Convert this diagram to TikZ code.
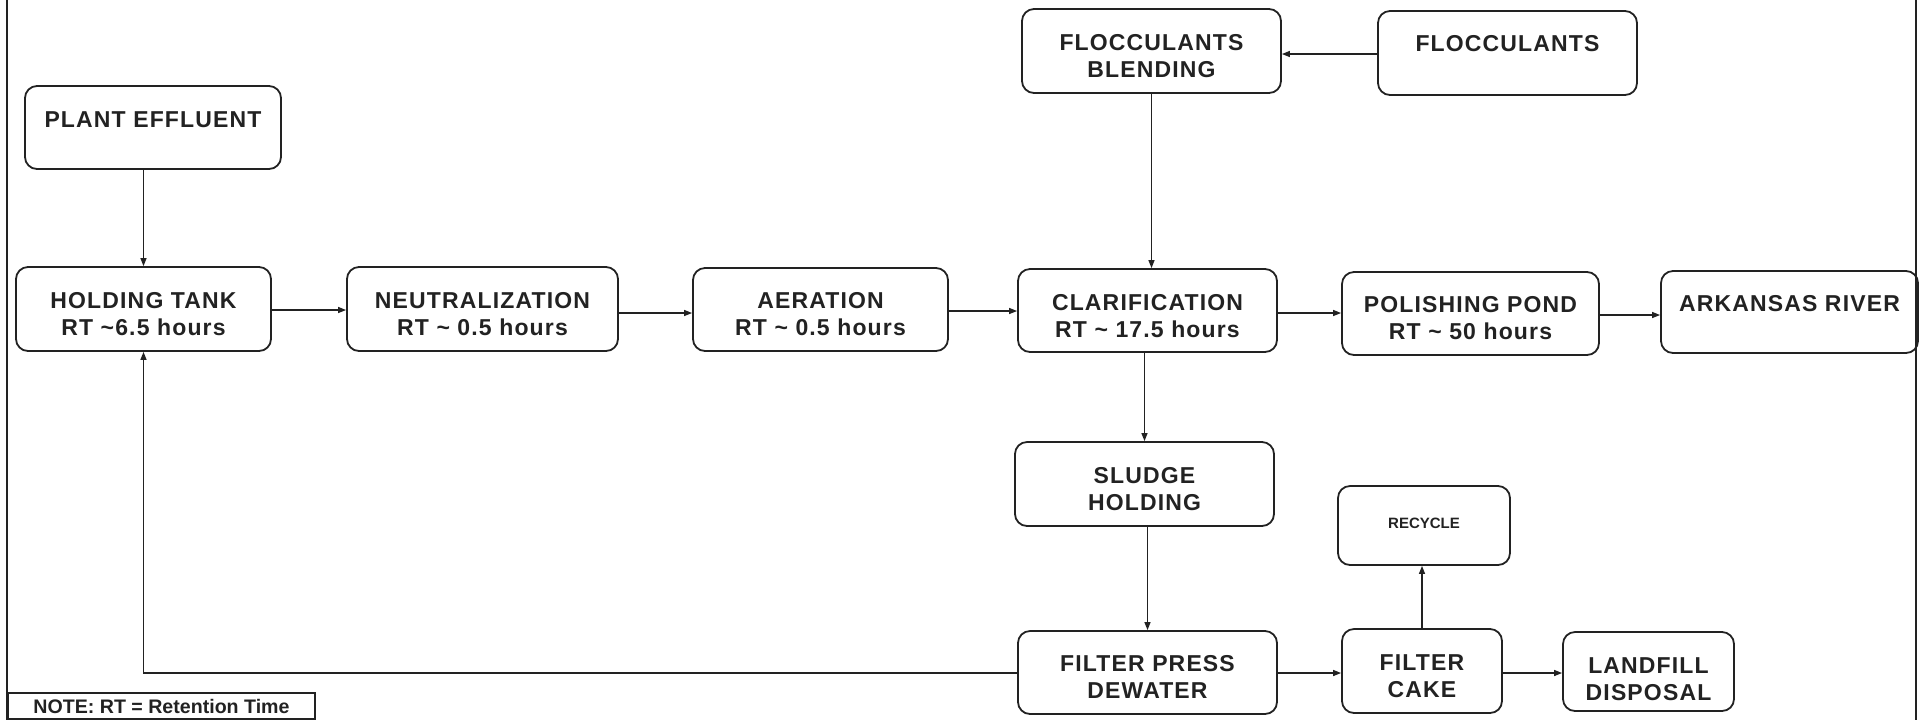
\documentclass[tikz,border=0pt]{standalone}
\usepackage{fontspec}
\setmainfont{Liberation Sans}
\usetikzlibrary{arrows.meta}
\definecolor{ink}{HTML}{222222}
\begin{document}
\begin{tikzpicture}[x=0.5pt,y=-0.5pt,
  box/.style={draw=ink, line width=0.9pt, rounded corners=6pt, inner sep=0pt},
  lbl/.style={align=center, font=\fontsize{11.5}{13.5}\selectfont\bfseries\addfontfeature{LetterSpace=5}, text=ink, inner sep=0pt},
  small/.style={lbl, font=\fontsize{7.5}{9}\selectfont\bfseries},
  arr/.style={draw=ink, line width=0.65pt, -{Triangle[length=4pt,width=3pt]}},
  border/.style={draw=ink, line width=1pt}
]
\useasboundingbox (0,0) rectangle (1923,720);
% frame lines
\coordinate (bl1) at (6.7,0);
\coordinate (bl2) at (6.7,720);
\coordinate (br1) at (1916,0);
\coordinate (br2) at (1916,720);
\draw[border] (bl1) -- (bl2);
\draw[border] (br1) -- (br2);

% boxes
\node[box, minimum width=128pt, minimum height=41.5pt] (pe) at (153,127.5) {};
\node[box, minimum width=127.5pt, minimum height=42pt] (ht) at (143.5,309) {};
\node[box, minimum width=135.5pt, minimum height=42pt] (neu) at (482.5,309) {};
\node[box, minimum width=127.5pt, minimum height=41.5pt] (aer) at (820.5,309.5) {};
\node[box, minimum width=129.5pt, minimum height=41.5pt] (clar) at (1147.5,310.5) {};
\node[box, minimum width=128.5pt, minimum height=41.5pt] (pp) at (1470.5,313.5) {};
\node[box, minimum width=128.5pt, minimum height=41pt] (ar) at (1789.5,312) {};
\node[box, minimum width=129.5pt, minimum height=42pt] (fb) at (1151.5,51) {};
\node[box, minimum width=129.5pt, minimum height=42pt] (fl) at (1507.5,53) {};
\node[box, minimum width=129.5pt, minimum height=42pt] (sh) at (1144.5,484) {};
\node[box, minimum width=86pt, minimum height=39.5pt] (re) at (1424,525.5) {};
\node[box, minimum width=129.5pt, minimum height=41.5pt] (fpd) at (1147.5,672.5) {};
\node[box, minimum width=80pt, minimum height=42pt] (fc) at (1422,671) {};
\node[box, minimum width=85.5pt, minimum height=39.5pt] (ld) at (1648.5,671.5) {};

% texts
\node[lbl] (pe-t) at (153,120) {PLANT EFFLUENT};
\node[lbl] (ht-t) at (143.5,314) {HOLDING TANK\\RT \textasciitilde6.5 hours};
\node[lbl] (neu-t) at (482.5,314) {NEUTRALIZATION\\RT \textasciitilde{} 0.5 hours};
\node[lbl] (aer-t) at (820.5,314.5) {AERATION\\RT \textasciitilde{} 0.5 hours};
\node[lbl] (clar-t) at (1147.5,316) {CLARIFICATION\\RT \textasciitilde{} 17.5 hours};
\node[lbl] (pp-t) at (1470.5,318.5) {POLISHING POND\\RT \textasciitilde{} 50 hours};
\node[lbl] (ar-t) at (1789.5,304) {ARKANSAS RIVER};
\node[lbl] (fb-t) at (1151.5,56) {FLOCCULANTS\\BLENDING};
\node[lbl] (fl-t) at (1507.5,44) {FLOCCULANTS};
\node[lbl] (sh-t) at (1144.5,489) {SLUDGE\\HOLDING};
\node[small] (re-t) at (1424,523) {RECYCLE};
\node[lbl] (fpd-t) at (1147.5,676.5) {FILTER PRESS\\DEWATER};
\node[lbl] (fc-t) at (1422,676) {FILTER\\CAKE};
\node[lbl] (ld-t) at (1648.5,679.5) {LANDFILL\\DISPOSAL};

% note
\node[draw=ink, line width=0.8pt, minimum width=153.5pt, minimum height=13pt, inner sep=0pt,
      font=\fontsize{9.8}{11}\selectfont\bfseries, text=ink] (note) at (161.5,706) {NOTE: RT = Retention Time};

% connectors
\draw[arr] (pe.south -| ht.north) -- (ht.north);
\draw[arr] (ht.east |- 0,310) -- (neu.west |- 0,310);
\draw[arr] (neu.east |- 0,313) -- (aer.west |- 0,313);
\draw[arr] (aer.east |- 0,311) -- (clar.west |- 0,311);
\draw[arr] (clar.east |- 0,313) -- (pp.west |- 0,313);
\draw[arr] (pp.east |- 0,315) -- (ar.west |- 0,315);
\draw[arr] (fl.west |- 0,54) -- (fb.east |- 0,54);
\draw[arr] (fb.south) -- (fb.south |- clar.north);
\draw[arr] (clar.south -| sh.north) -- (sh.north);
\draw[arr] (sh.south -| fpd.north) -- (fpd.north);
\draw[arr] (fpd.east |- 0,673) -- (fc.west |- 0,673);
\draw[arr] (fc.east |- 0,673) -- (ld.west |- 0,673);
\draw[arr] (fc.north) -- (fc.north |- re.south);
\draw[arr] (fpd.west |- 0,673) -| (ht.south);
\end{tikzpicture}
\end{document}
